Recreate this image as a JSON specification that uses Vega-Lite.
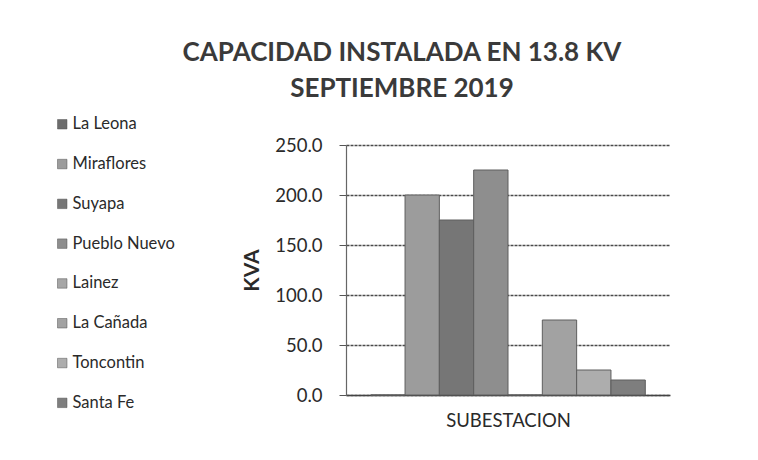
{
  "$schema": "https://vega.github.io/schema/vega-lite/v6.json",
  "autosize": {"type": "none"},
  "padding": {"left": 346, "top": 145, "right": 88, "bottom": 65},
  "width": 324,
  "height": 250,
  "background": "#ffffff",
  "title": {
    "text": ["CAPACIDAD INSTALADA EN 13.8 KV", "SEPTIEMBRE 2019"],
    "font": "Lato",
    "fontSize": 26,
    "fontWeight": "bold",
    "color": "#3a3a3a",
    "anchor": "middle",
    "frame": "group",
    "dx": -106,
    "offset": 14,
    "lineHeight": 36
  },
  "data": {
    "values": [
      {"grupo": "SUBESTACION", "sub": "La Leona", "kva": 0},
      {"grupo": "SUBESTACION", "sub": "Miraflores", "kva": 200},
      {"grupo": "SUBESTACION", "sub": "Suyapa", "kva": 175},
      {"grupo": "SUBESTACION", "sub": "Pueblo Nuevo", "kva": 225},
      {"grupo": "SUBESTACION", "sub": "Lainez", "kva": 0},
      {"grupo": "SUBESTACION", "sub": "La Cañada", "kva": 75},
      {"grupo": "SUBESTACION", "sub": "Toncontin", "kva": 25},
      {"grupo": "SUBESTACION", "sub": "Santa Fe", "kva": 15}
    ]
  },
  "mark": {"type": "bar", "stroke": "#5e5e5e", "strokeWidth": 1},
  "encoding": {
    "x": {
      "field": "grupo",
      "type": "nominal",
      "scale": {"paddingInner": 0, "paddingOuter": 0.09},
      "axis": {
        "labels": false,
        "ticks": false,
        "domain": true,
        "domainColor": "#444444",
        "domainWidth": 1.5,
        "title": "SUBESTACION",
        "titleFont": "Lato",
        "titleFontSize": 18.5,
        "titleFontWeight": "normal",
        "titleColor": "#2a2a2a",
        "titlePadding": 16
      }
    },
    "xOffset": {
      "field": "sub",
      "type": "nominal",
      "sort": ["La Leona", "Miraflores", "Suyapa", "Pueblo Nuevo", "Lainez", "La Cañada", "Toncontin", "Santa Fe"],
      "scale": {"paddingInner": 0, "paddingOuter": 0}
    },
    "y": {
      "field": "kva",
      "type": "quantitative",
      "scale": {"domain": [0, 250], "nice": false},
      "axis": {
        "values": [0, 50, 100, 150, 200, 250],
        "format": ".1f",
        "title": "KVA",
        "titleFont": "Lato",
        "titleFontSize": 21,
        "titleFontWeight": "bold",
        "titleColor": "#2a2a2a",
        "titlePadding": 12,
        "labelFont": "Lato",
        "labelFontSize": 18.5,
        "labelColor": "#2a2a2a",
        "labelPadding": 17,
        "tickSize": 7,
        "tickColor": "#555555",
        "domainColor": "#666666",
        "domainWidth": 1.2,
        "grid": true,
        "gridColor": "#4a4a4a",
        "gridWidth": 1.3,
        "gridDash": [3, 1]
      }
    },
    "color": {
      "field": "sub",
      "type": "nominal",
      "sort": ["La Leona", "Miraflores", "Suyapa", "Pueblo Nuevo", "Lainez", "La Cañada", "Toncontin", "Santa Fe"],
      "scale": {
        "domain": ["La Leona", "Miraflores", "Suyapa", "Pueblo Nuevo", "Lainez", "La Cañada", "Toncontin", "Santa Fe"],
        "range": ["#6c6c6c", "#9c9c9c", "#767676", "#8e8e8e", "#a6a6a6", "#a2a2a2", "#adadad", "#7e7e7e"]
      },
      "legend": {
        "orient": "none",
        "legendX": -292,
        "legendY": -29,
        "title": null,
        "symbolType": "square",
        "symbolSize": 90,
        "symbolStrokeColor": "#555555",
        "symbolStrokeWidth": 0.5,
        "labelFont": "Lato",
        "labelFontSize": 16.5,
        "labelColor": "#2a2a2a",
        "labelOffset": 2,
        "rowPadding": 22.8
      }
    }
  },
  "config": {
    "view": {"stroke": null}
  }
}
